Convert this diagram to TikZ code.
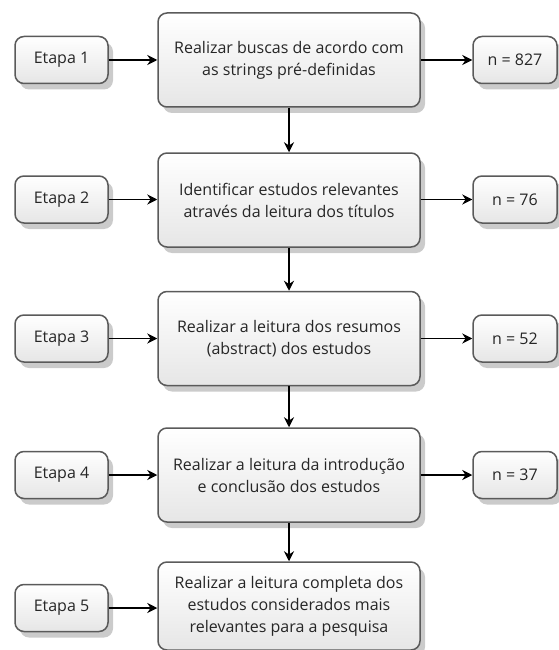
\documentclass[tikz,border=0pt]{standalone}
\usepackage{fontspec}
\setmainfont{Open Sans}
\usetikzlibrary{shadows,arrows.meta,positioning}
\definecolor{bordr}{HTML}{5A5A5A}
\definecolor{fillbot}{HTML}{E6E6E6}
\tikzset{
  boxbase/.style={draw=bordr, line width=1.5pt, rounded corners=9pt,
    top color=white, bottom color=fillbot, align=center, inner sep=0pt,
    font=\fontsize{16}{22}\selectfont, text=black!85,
    drop shadow={shadow xshift=5pt, shadow yshift=-6pt, opacity=0.45, fill=black!45}},
  mainbox/.style={boxbase, minimum width=262pt, minimum height=94pt},
  lastbox/.style={boxbase, minimum width=262pt, minimum height=88pt},
  etapabox/.style={boxbase, minimum width=93pt, minimum height=47pt},
  nbox/.style={boxbase, minimum width=84pt, minimum height=47pt},
  arr/.style={-{Stealth[length=10pt,width=10pt]}, line width=1.3pt, black}
}
\begin{document}
\begin{tikzpicture}[x=1pt,y=1pt]
\useasboundingbox (0,0) rectangle (558,-650);
% main boxes
\node[mainbox] (m1) at (289,-60) {Realizar buscas de acordo com\\as strings pré-definidas};
\node[mainbox] (m2) at (289,-200) {Identificar estudos relevantes\\através da leitura dos títulos};
\node[mainbox] (m3) at (289,-338.5) {Realizar a leitura dos resumos\\(abstract) dos estudos};
\node[mainbox] (m4) at (289,-475) {Realizar a leitura da introdução\\e conclusão dos estudos};
\node[lastbox] (m5) at (289,-606) {Realizar a leitura completa dos\\estudos considerados mais\\relevantes para a pesquisa};
% etapa boxes
\node[etapabox] (e1) at (61.5,-60) {Etapa 1};
\node[etapabox] (e2) at (61.5,-199.5) {Etapa 2};
\node[etapabox] (e3) at (61.5,-338.5) {Etapa 3};
\node[etapabox] (e4) at (61.5,-475) {Etapa 4};
\node[etapabox] (e5) at (61.5,-608) {Etapa 5};
% n boxes
\node[nbox] (n1) at (515,-60) {n = 827};
\node[nbox] (n2) at (515,-199.5) {n = 76};
\node[nbox] (n3) at (515,-338.5) {n = 52};
\node[nbox] (n4) at (515,-475) {n = 37};
% arrows
\foreach \i in {1,...,4} {
  \draw[arr] (e\i.east) -- (m\i.west|-e\i.east);
  \draw[arr] (m\i.east|-n\i.west) -- (n\i.west);
}
\draw[arr] (e5.east) -- (m5.west|-e5.east);
\draw[arr] (m1.south) -- (m2.north);
\draw[arr] (m2.south) -- (m3.north);
\draw[arr] (m3.south) -- (m4.north);
\draw[arr] (m4.south) -- (m5.north);
\end{tikzpicture}
\end{document}
